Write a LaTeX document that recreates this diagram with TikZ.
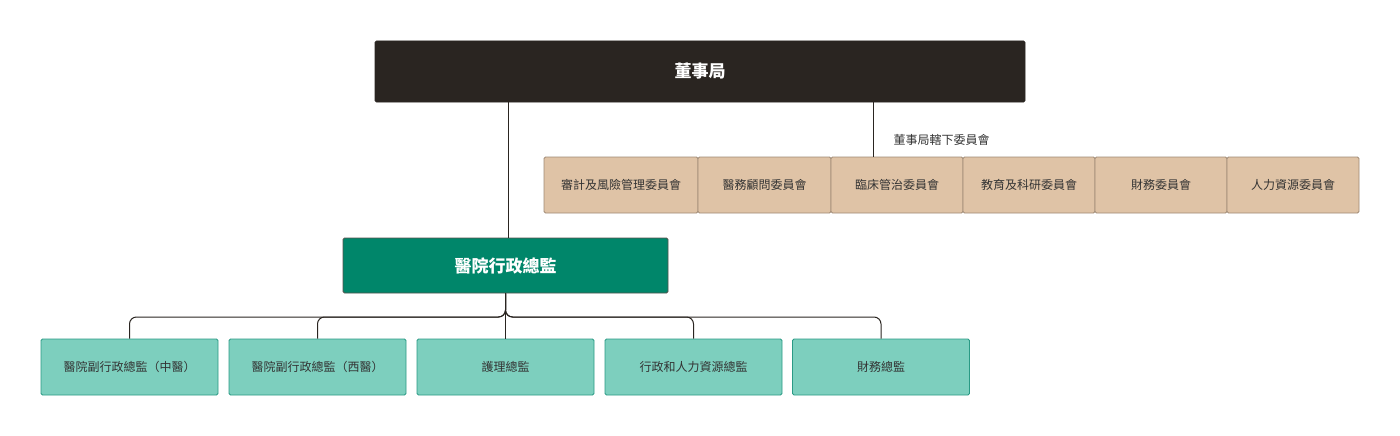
\documentclass[tikz,border=0pt]{standalone}
\usepackage{fontspec}
\setmainfont{Noto Sans CJK TC}
\definecolor{board}{HTML}{2A2521}
\definecolor{ceo}{HTML}{00866A}
\definecolor{comm}{HTML}{DFC3A6}
\definecolor{commb}{HTML}{A08A75}
\definecolor{sub}{HTML}{7DCFBE}
\definecolor{subb}{HTML}{2A9A85}
\definecolor{txt}{HTML}{333333}
\begin{document}
\begin{tikzpicture}[x=1pt,y=-1pt,
  box/.style={draw,rounded corners=1.5pt,line width=0.8pt,inner sep=0pt,font=\fontsize{12}{14}\selectfont,text=txt},
  cbox/.style={box,fill=comm,draw=commb,minimum height=56pt},
  sbox/.style={box,fill=sub,draw=subb,minimum height=56pt,minimum width=177pt},
  line/.style={draw=board,line width=1pt}]
\useasboundingbox (0,0) rectangle (1400,436);
\node[box,fill=board,draw=board,minimum width=650pt,minimum height=61pt,text=white,font=\fontsize{17}{20}\selectfont\bfseries] (b) at (700,71.5) {董事局};
\node[box,fill=ceo,draw=board!80,minimum width=325pt,minimum height=55pt,text=white,font=\fontsize{17}{20}\selectfont\bfseries] (c) at (505.5,265.5) {醫院行政總監};
\foreach \n/\a/\bb/\t in {c1/544/698/審計及風險管理委員會,c2/698/831/醫務顧問委員會,c3/831/963/臨床管治委員會,c4/963/1095/教育及科研委員會,c5/1095/1227/財務委員會,c6/1227/1359/人力資源委員會}
  \node[cbox,minimum width={\bb-\a}] (\n) at ({(\a+\bb)/2},185) {\t};
\foreach \n/\x/\t in {s1/129.5/醫院副行政總監（中醫）,s2/317.5/醫院副行政總監（西醫）,s3/505.5/護理總監,s4/693.5/行政和人力資源總監,s5/881/財務總監}
  \node[sbox] (\n) at (\x,367) {\t};
\coordinate (bl) at (508,102);
\draw[line] (bl) -- (bl |- c.north);
\coordinate (br) at (873,102);
\draw[line] (br) -- (br |- c3.north);
\node[text=txt,font=\fontsize{12}{14}\selectfont,anchor=west] (lab) at (890,140) {董事局轄下委員會};
\foreach \s in {s1,s2,s3,s4,s5}
  \draw[line,rounded corners=7pt] (c.south) -- (c.south |- 0,317) -| (\s.north);
\end{tikzpicture}
\end{document}
